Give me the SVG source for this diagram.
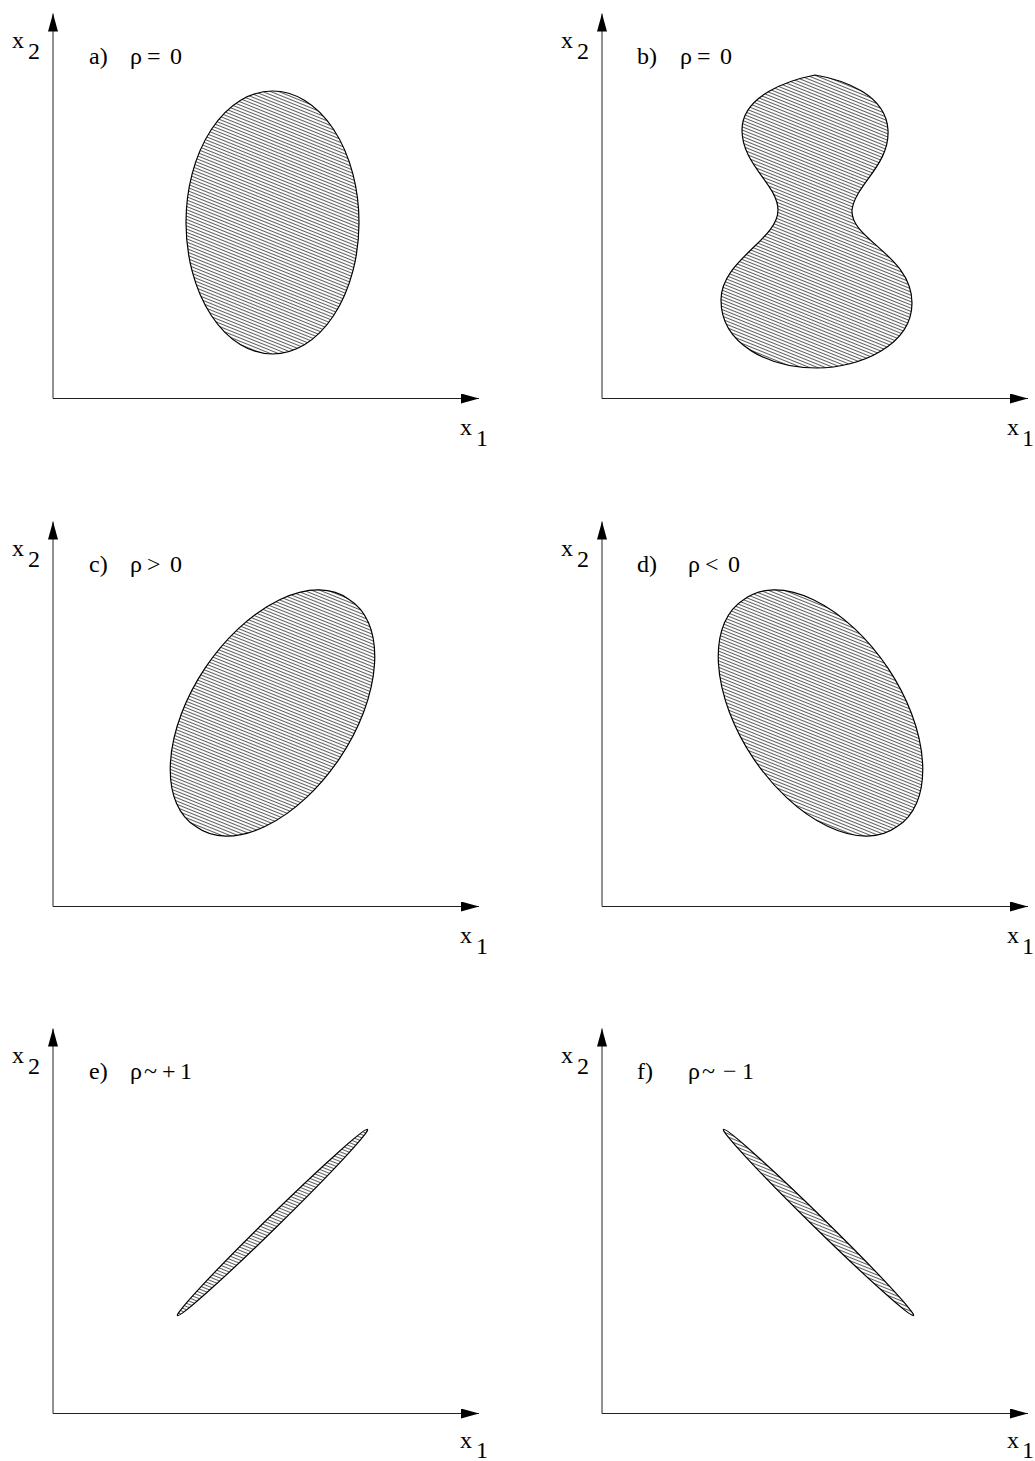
<svg xmlns="http://www.w3.org/2000/svg" width="1035" height="1461" viewBox="0 0 1035 1461">
<style>
text{font-family:"Liberation Serif","Times New Roman",serif;font-size:24px;fill:#000}
.ax{fill:none;stroke:#222;stroke-width:1}
.sh{fill:url(#hatch);stroke:#000;stroke-width:1.2}
</style>
<defs>
<pattern id="hatch" patternUnits="userSpaceOnUse" width="12" height="3" patternTransform="rotate(22)">
<rect width="12" height="3" fill="#fff"/>
<line x1="0" y1="1.5" x2="12" y2="1.5" stroke="#333" stroke-width="0.8"/>
</pattern>
<marker id="arr" markerUnits="userSpaceOnUse" markerWidth="18" markerHeight="10" refX="18" refY="5" orient="auto-start-reverse">
<path d="M0,0 L18,5 L0,10 Z" fill="#000"/>
</marker>
</defs>
<rect width="1035" height="1461" fill="#fff"/>

<g id="connectors">
<path class="ax" d="M53,13.5 L53,398.5 L479,398.5" marker-start="url(#arr)" marker-end="url(#arr)"/>
<path class="ax" d="M602,13.5 L602,398.5 L1028,398.5" marker-start="url(#arr)" marker-end="url(#arr)"/>
<path class="ax" d="M53,521.5 L53,906.5 L479,906.5" marker-start="url(#arr)" marker-end="url(#arr)"/>
<path class="ax" d="M602,521.5 L602,906.5 L1028,906.5" marker-start="url(#arr)" marker-end="url(#arr)"/>
<path class="ax" d="M53,1028.5 L53,1413.5 L479,1413.5" marker-start="url(#arr)" marker-end="url(#arr)"/>
<path class="ax" d="M602,1028.5 L602,1413.5 L1028,1413.5" marker-start="url(#arr)" marker-end="url(#arr)"/>
</g>

<g id="panel-a">
<text x="12" y="48">x<tspan x="28" y="59">2</tspan></text>
<text x="460" y="435">x<tspan x="476" y="446">1</tspan></text>
<text x="89" y="64">a)<tspan x="130">ρ</tspan><tspan x="147">=</tspan><tspan x="170">0</tspan></text>
<ellipse class="sh" cx="272.5" cy="222.5" rx="86.5" ry="131.5"/>
</g>

<g id="panel-b">
<text x="561" y="48">x<tspan x="577" y="59">2</tspan></text>
<text x="1007" y="435">x<tspan x="1022" y="446">1</tspan></text>
<text x="637" y="64">b)<tspan x="680">ρ</tspan><tspan x="697">=</tspan><tspan x="720">0</tspan></text>
<path class="sh" d="M815,75 C845,80 886,95 888,130 C890,165 855,185 852,210 C850,240 912,255 912,303 C912,345 860,368 817,368 C770,368 721,345 721,300 C721,260 778,240 778,210 C778,185 742,165 742,130 C742,95 790,80 815,75 Z"/>
</g>

<g id="panel-c">
<text x="12" y="556">x<tspan x="28" y="567">2</tspan></text>
<text x="460" y="943">x<tspan x="476" y="954">1</tspan></text>
<text x="89" y="572">c)<tspan x="130">ρ</tspan><tspan x="147">&gt;</tspan><tspan x="170">0</tspan></text>
<path class="sh" d="M348.7,599.2 A137,79 -56.2 1 0 196.3,826.8 A137,79 -56.2 1 0 348.7,599.2 Z"/>
</g>

<g id="panel-d">
<text x="561" y="556">x<tspan x="577" y="567">2</tspan></text>
<text x="1007" y="943">x<tspan x="1022" y="954">1</tspan></text>
<text x="637" y="572">d)<tspan x="688">ρ</tspan><tspan x="705">&lt;</tspan><tspan x="728">0</tspan></text>
<path class="sh" d="M744.3,599.2 A137,79 56.2 1 1 896.7,826.8 A137,79 56.2 1 1 744.3,599.2 Z"/>
</g>

<g id="panel-e">
<text x="12" y="1063">x<tspan x="28" y="1074">2</tspan></text>
<text x="460" y="1448">x<tspan x="476" y="1458">1</tspan></text>
<text x="89" y="1079">e)<tspan x="130">ρ</tspan><tspan x="144">~</tspan><tspan x="162">+</tspan><tspan x="180">1</tspan></text>
<path class="sh" d="M367.5,1129.4 A133,6 -44.4 1 0 177.5,1315.6 A133,6 -44.4 1 0 367.5,1129.4 Z"/>
</g>

<g id="panel-f">
<text x="561" y="1063">x<tspan x="577" y="1074">2</tspan></text>
<text x="1007" y="1448">x<tspan x="1022" y="1458">1</tspan></text>
<text x="637" y="1079">f)<tspan x="688">ρ</tspan><tspan x="702">~</tspan><tspan x="723">−</tspan><tspan x="742">1</tspan></text>
<path class="sh" d="M723.5,1129.4 A133,6 44.4 1 1 913.5,1315.6 A133,6 44.4 1 1 723.5,1129.4 Z"/>
</g>
</svg>
